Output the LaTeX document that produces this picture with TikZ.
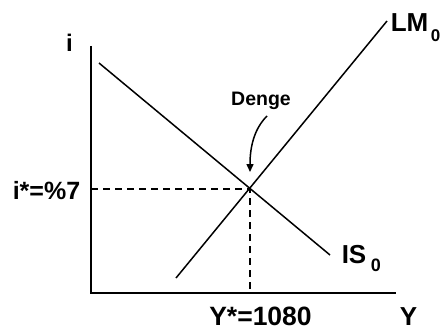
\documentclass[tikz,border=0pt]{standalone}
\usepackage{fontspec}
\setmainfont{Liberation Sans}
\usetikzlibrary{arrows.meta}
\begin{document}
\begin{tikzpicture}[x=1pt,y=-1pt,line width=1.5pt,
  lbl/.style={inner sep=0pt,anchor=base,font=\bfseries\fontsize{#1}{#1}\selectfont},
  lbl/.default=25,
  guide/.style={dashed,dash pattern=on 7pt off 5pt,line width=1.8pt}]
\useasboundingbox (0,0) rectangle (443,331);
\coordinate (O) at (91,293);
\coordinate (ytop) at (91,46);
\coordinate (xend) at (396,293);
\coordinate (E) at (250,189);
\coordinate (is1) at (99,63);
\coordinate (is2) at (330,255);
\coordinate (lm1) at (176,278);
\coordinate (lm2) at (387,21);
\coordinate (ia) at (91,189);
\coordinate (ya) at (250,293);
\coordinate (arrS) at (267,116);
\coordinate (arrE) at (250,172);
\draw (ytop) -- (O) -- (xend);
\draw (is1) -- (is2);
\draw (lm1) -- (lm2);
\draw[guide] (ia) -- (E) -- (ya);
\draw[-{Triangle[length=8pt,width=7pt]}] (arrS) .. controls (255,128) and (250,145) .. (arrE);
\node[lbl=24] (ilab) at (69.5,52) {i};
\node[lbl=25] (istar) at (46.5,199) {i*=\%7};
\node[lbl=19.5] (denge) at (261,106) {Denge};
\node[lbl=26.5] (ystar) at (260.5,325) {Y*=1080};
\node[lbl=26] (ylab) at (408.5,325) {Y};
\node[lbl=26,anchor=base west] (lm) at (390,32) {LM};
\node[lbl=17,anchor=base west] (lmsub) at (430,42) {0};
\node[lbl=26,anchor=base west] (is) at (341,263) {IS};
\node[lbl=18,anchor=base west] (issub) at (370,271) {0};
\end{tikzpicture}
\end{document}
